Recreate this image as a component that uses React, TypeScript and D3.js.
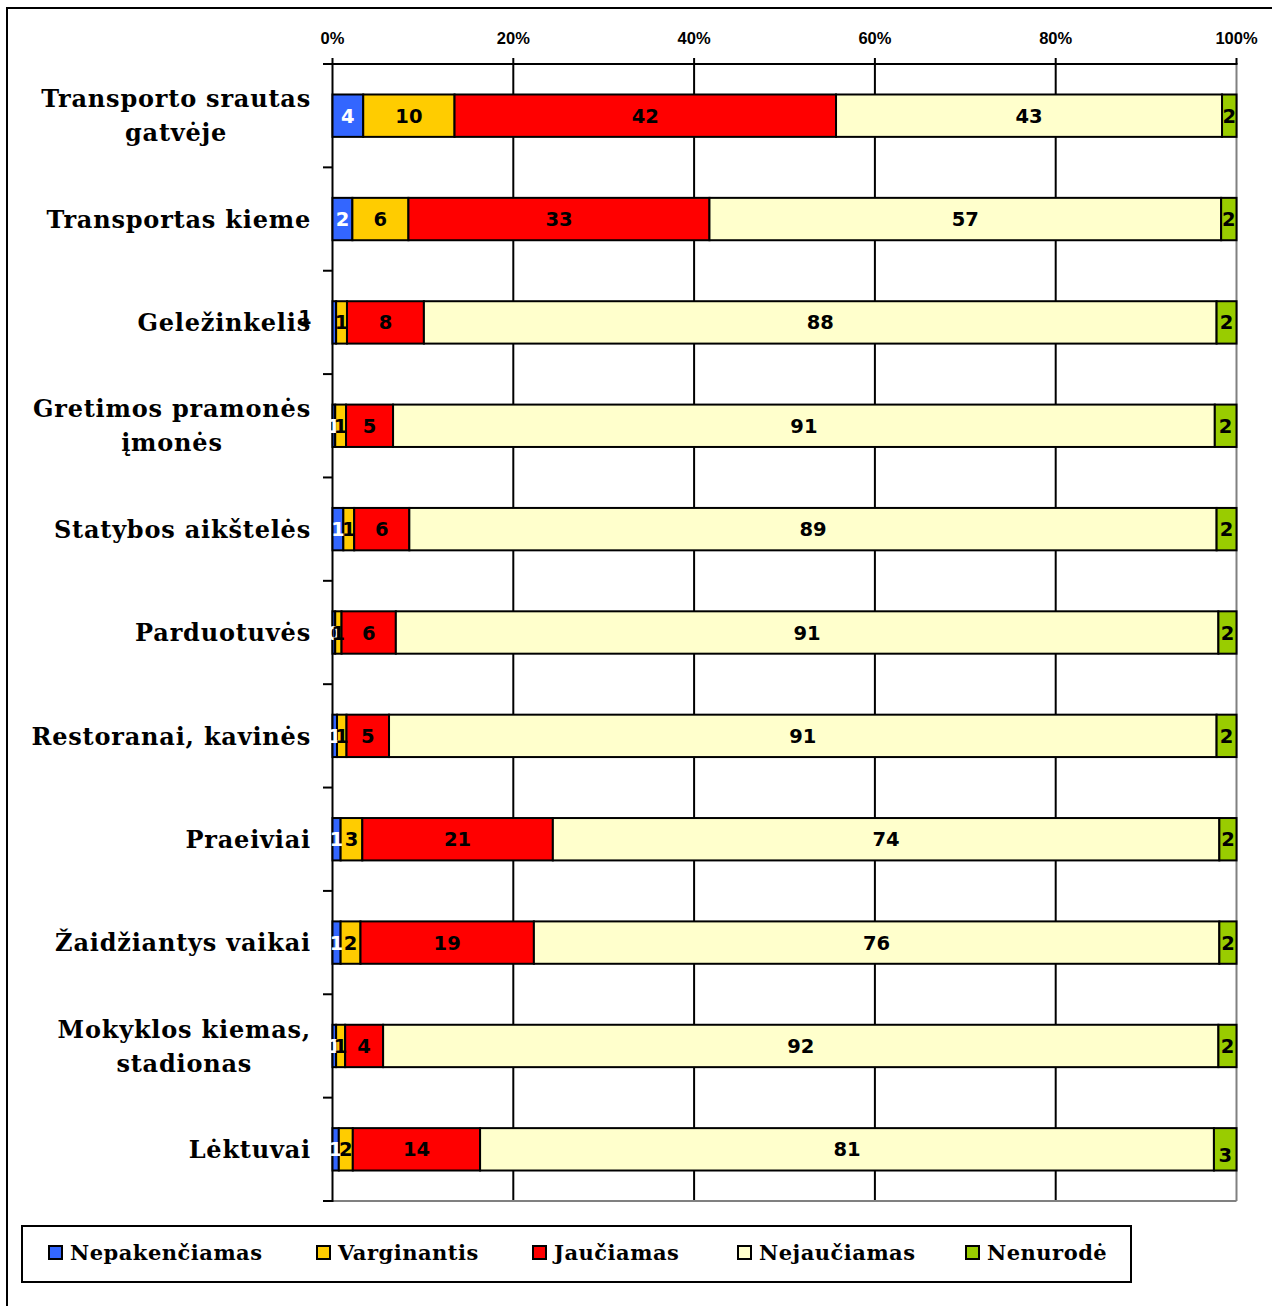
import React, { useEffect, useRef } from "react";
import * as d3 from "d3";

const categories = [
  "Transporto srautas\ngatvėje",
  "Transportas kieme",
  "Geležinkelis",
  "Gretimos pramonės\nįmonės",
  "Statybos aikštelės",
  "Parduotuvės",
  "Restoranai, kavinės",
  "Praeiviai",
  "Žaidžiantys vaikai",
  "Mokyklos kiemas,\nstadionas",
  "Lėktuvai",
];
const seriesNames = ["Nepakenčiamas", "Varginantis", "Jaučiamas", "Nejaučiamas", "Nenurodė"];
const seriesColors = ["#3366FF", "#FFCC00", "#FF0000", "#FFFFCC", "#99CC00"];

// estimated shares (bar widths)
const nepakenciamas = [3.4, 2.2, 0.4, 0.3, 1.2, 0.3, 0.5, 0.9, 0.9, 0.4, 0.7];
const varginantis = [10.1, 6.2, 1.2, 1.2, 1.2, 0.7, 1.05, 2.4, 2.2, 1.0, 1.55];
const jauciamas = [42.2, 33.3, 8.5, 5.2, 6.1, 6.0, 4.7, 21.1, 19.2, 4.2, 14.1];
const nejauciamas = [42.7, 56.6, 87.6, 90.9, 89.3, 90.9, 91.5, 73.8, 75.9, 92.4, 81.3];
const nenurode = [1.6, 1.7, 2.2, 2.4, 2.2, 2.0, 2.2, 1.9, 1.9, 2.0, 2.5];

// printed labels
const labelsNepakenciamas = [4, 2, 1, 1, 1, 0, 1, 1, 1, 1, 1];
const labelsVarginantis = [10, 6, 1, 1, 1, 1, 1, 3, 2, 1, 2];
const labelsJauciamas = [42, 33, 8, 5, 6, 6, 5, 21, 19, 4, 14];
const labelsNejauciamas = [43, 57, 88, 91, 89, 91, 91, 74, 76, 92, 81];
const labelsNenurode = [2, 2, 2, 2, 2, 2, 2, 2, 2, 2, 3];

const xTicks = [0, 0.2, 0.4, 0.6, 0.8, 1];

const W = 1272;
const H = 1306;
const SERIF = "'DejaVu Serif', serif";
const SANS = "'Liberation Sans', Arial, sans-serif";
const LABEL_SANS = "'DejaVu Sans', sans-serif";

export default function App() {
  const ref = useRef<SVGSVGElement | null>(null);

  useEffect(() => {
    const svg = d3.select(ref.current);
    svg.selectAll("*").remove();

    const values = [nepakenciamas, varginantis, jauciamas, nejauciamas, nenurode];
    const labels = [labelsNepakenciamas, labelsVarginantis, labelsJauciamas, labelsNejauciamas, labelsNenurode];
    const rows = categories.map((c, i) => {
      const r: any = { cat: c, idx: i };
      seriesNames.forEach((s, k) => (r[s] = values[k][i]));
      return r;
    });
    const stacked = d3.stack<any>().keys(seriesNames).offset(d3.stackOffsetExpand)(rows);

    const x = d3.scaleLinear().domain([0, 1]).range([332.5, 1236.5]);
    const y = d3.scaleBand<string>().domain(categories).range([64, 1201]).paddingInner(0.59).paddingOuter(0.295);

    // outer frame
    svg.append("rect").attr("x", 7).attr("y", 8).attr("width", 1400).attr("height", 1400)
      .attr("fill", "white").attr("stroke", "black").attr("stroke-width", 2);

    // gridlines
    const g = svg.append("g");
    xTicks.slice(1, -1).forEach((t) => {
      g.append("line").attr("x1", x(t)).attr("x2", x(t)).attr("y1", 64).attr("y2", 1201)
        .attr("stroke", "black").attr("stroke-width", 2);
    });
    // right and bottom plot edges (gray)
    g.append("line").attr("x1", x(1)).attr("x2", x(1)).attr("y1", 64).attr("y2", 1201)
      .attr("stroke", "#808080").attr("stroke-width", 2);
    g.append("line").attr("x1", x(0)).attr("x2", x(1)).attr("y1", 1201).attr("y2", 1201)
      .attr("stroke", "#808080").attr("stroke-width", 2);

    // top axis
    g.append("line").attr("x1", 323).attr("x2", x(1) + 1).attr("y1", 64).attr("y2", 64)
      .attr("stroke", "black").attr("stroke-width", 2);
    xTicks.forEach((t) => {
      g.append("line").attr("x1", x(t)).attr("x2", x(t)).attr("y1", 58).attr("y2", 64)
        .attr("stroke", "black").attr("stroke-width", 2);
      g.append("text").attr("x", x(t)).attr("y", 44).attr("text-anchor", "middle")
        .attr("font-family", SANS).attr("font-weight", "bold").attr("font-size", 16.5)
        .text(d3.format(".0%")(t));
    });

    // left axis
    g.append("line").attr("x1", x(0)).attr("x2", x(0)).attr("y1", 63).attr("y2", 1202)
      .attr("stroke", "black").attr("stroke-width", 2);
    const step = y.step();
    d3.range(categories.length + 1).forEach((k) => {
      const yy = 64 + k * step;
      g.append("line").attr("x1", 323).attr("x2", x(0)).attr("y1", yy).attr("y2", yy)
        .attr("stroke", "black").attr("stroke-width", 2);
    });

    // bars
    stacked.forEach((layer, k) => {
      layer.forEach((d: any, i: number) => {
        const cat = categories[i];
        svg.append("rect")
          .attr("x", x(d[0])).attr("y", y(cat)!)
          .attr("width", x(d[1]) - x(d[0])).attr("height", y.bandwidth())
          .attr("fill", seriesColors[k]).attr("stroke", "black").attr("stroke-width", 2);
      });
    });

    // category labels
    categories.forEach((c) => {
      const lines = c.split("\n");
      const cy = y(c)! + y.bandwidth() / 2;
      const lh = 34;
      const t = svg.append("text").attr("font-family", SERIF).attr("font-weight", "bold")
        .attr("font-size", 24).attr("letter-spacing", 0.8).attr("fill", "black");
      const spans = lines.map((ln, j) =>
        t.append("tspan").attr("y", cy + (j - (lines.length - 1) / 2) * lh).attr("dy", "0.36em").text(ln)
      );
      const widths = spans.map((s) => (s.node() as SVGTSpanElement).getComputedTextLength());
      const maxW = Math.max(...widths);
      const center = 311 - maxW / 2;
      spans.forEach((s) => s.attr("x", center).attr("text-anchor", "middle"));
    });

    // segment labels
    stacked.forEach((layer, k) => {
      layer.forEach((d: any, i: number) => {
        const cat = categories[i];
        let cx = (x(d[0]) + x(d[1])) / 2;
        let cy = y(cat)! + y.bandwidth() / 2;
        let fill = k === 0 ? "white" : "black";
        if (k === 0 && i === 2) {
          // label displaced onto category text in the original
          cx = 305;
          cy -= 5;
          fill = "black";
        }
        if (k === 4 && i === categories.length - 1) cy += 6;
        svg.append("text").attr("x", cx).attr("y", cy).attr("dy", "0.36em")
          .attr("text-anchor", "middle").attr("font-family", LABEL_SANS).attr("font-weight", "bold")
          .attr("font-size", 19.5).attr("fill", fill)
          .text(labels[k][i]);
      });
    });

    // legend
    svg.append("rect").attr("x", 22).attr("y", 1226).attr("width", 1109).attr("height", 56)
      .attr("fill", "white").attr("stroke", "black").attr("stroke-width", 2);
    const legendX = [49, 317, 533, 738, 966];
    seriesNames.forEach((s, k) => {
      svg.append("rect").attr("x", legendX[k]).attr("y", 1246).attr("width", 13).attr("height", 13)
        .attr("fill", seriesColors[k]).attr("stroke", "black").attr("stroke-width", 2);
      svg.append("text").attr("x", legendX[k] + 21).attr("y", 1252).attr("dy", "0.36em")
        .attr("font-family", SERIF).attr("font-weight", "bold").attr("font-size", 21)
        .attr("letter-spacing", 0.5).text(s);
    });
  }, []);

  return (
    <svg ref={ref} width={W} height={H} style={{ position: "absolute", left: 0, top: 0, background: "white" }} />
  );
}
